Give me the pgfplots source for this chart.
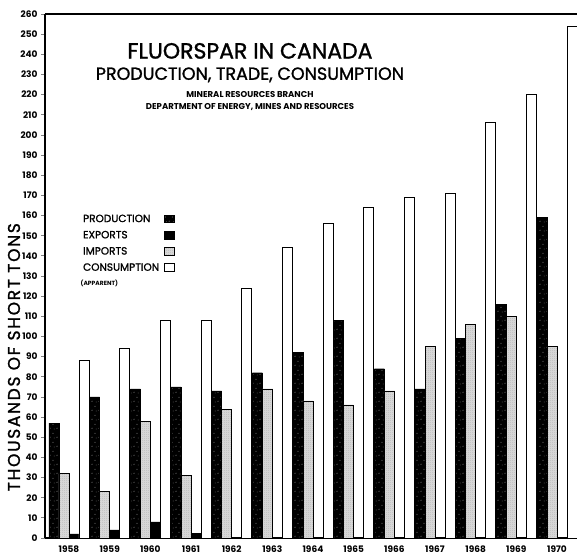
\documentclass[border=0pt]{standalone}
\usepackage{fontspec}
\setmainfont{Poppins}
\newfontfamily\medfont[FakeBold=1.3]{Poppins}
\newfontfamily\ylabfont[FakeBold=1.3,LetterSpace=10]{Poppins}
\usepackage{pgfplots}
\usepackage{pgfplotstable}
\pgfplotsset{compat=1.18}
\usetikzlibrary{patterns}

\pgfdeclarepatternformonly{stipple}{\pgfqpoint{-0.5pt}{-0.5pt}}{\pgfqpoint{1.5pt}{1.5pt}}{\pgfqpoint{2pt}{2pt}}{%
  \pgfpathcircle{\pgfqpoint{0pt}{0pt}}{0.4pt}%
  \pgfpathcircle{\pgfqpoint{1pt}{1pt}}{0.4pt}%
  \pgfusepath{fill}}
\pgfdeclarepatternformonly{speck}{\pgfqpoint{0pt}{0pt}}{\pgfqpoint{7pt}{9pt}}{\pgfqpoint{7pt}{9pt}}{%
  \pgfpathcircle{\pgfqpoint{1.2pt}{2pt}}{0.45pt}%
  \pgfpathcircle{\pgfqpoint{4.6pt}{6.3pt}}{0.4pt}%
  \pgfpathcircle{\pgfqpoint{5.8pt}{1.1pt}}{0.35pt}%
  \pgfusepath{fill}}

\pgfplotstableread{
year prod imp cons
1958 57 32 88
1959 70 23 94
1960 74 58 108
1961 75 31 108
1962 73 64 124
1963 82 74 144
1964 92 68 156
1965 108 66 164
1966 84 73 169
1967 74 95 171
1968 99 106 206
1969 116 110 220
1970 159 95 254
}\fluor

\begin{document}
\begin{tikzpicture}
\useasboundingbox (0,0) rectangle (577pt,555pt);
\clip (0,0) rectangle (577pt,555pt);
\begin{axis}[
  at={(45pt,17pt)}, anchor=south west,
  scale only axis, width=535pt, height=524pt,
  xmin=1957.41, xmax=1970.565, ymin=0, ymax=260,
  ybar, bar width=10pt,
  separate axis lines,
  axis line style={line width=1.8pt},
  xtick={1958,...,1970}, ytick={0,10,...,260},
  xtick style={draw=none},
  ytick pos=left, tick align=outside, major tick length=4pt,
  ytick style={line width=0.8pt},
  /pgf/number format/assume math mode=true,
  /pgf/number format/set thousands separator={},
  ticklabel style={font=\bfseries\fontsize{9}{10}\selectfont},
  ylabel={THOUSANDS OF SHORT TONS},
  ylabel style={font=\ylabfont\fontsize{17}{19}\selectfont, at={(axis description cs:-0.058,0.345)}, anchor=center},
  legend style={at={(axis cs:1958.22,162.5)}, anchor=north west, draw=none, fill=none,
    font=\medfont\fontsize{10.5}{12}\selectfont, row sep=3.3pt, column sep=3pt},
  legend cell align=left, legend plot pos=right,
  legend image code/.code={\draw[#1] (0pt,-3.5pt) rectangle (10pt,4pt);},
]
\addplot[bar shift=-15pt, fill=black, draw=black, postaction={pattern=speck, pattern color=white}] table[x=year,y=prod]{\fluor};
\addlegendentry{PRODUCTION}
\addplot[bar shift=5pt, fill=black, draw=black] coordinates {(1958,2) (1959,4) (1960,8) (1961,2.4)};
\addlegendentry{EXPORTS}
\addplot[bar shift=-5pt, fill=white, draw=black, line width=0.4pt, postaction={pattern=stipple}] table[x=year,y=imp]{\fluor};
\addlegendentry{IMPORTS}
\addplot[bar shift=15pt, fill=white, draw=black, line width=0.8pt] table[x=year,y=cons]{\fluor};
\addlegendentry{CONSUMPTION}

\node[anchor=west, font=\bfseries\fontsize{6}{7}\selectfont] at (axis cs:1958.2,126.5) {(APPARENT)};
\node[font=\medfont\fontsize{22}{24}\selectfont] at (axis cs:1962.45,241.7) {FLUORSPAR IN CANADA};
\node[font=\medfont\fontsize{17.5}{20}\selectfont] at (axis cs:1962.45,229.8) {PRODUCTION, TRADE, CONSUMPTION};
\node[font=\bfseries\fontsize{8.5}{10}\selectfont] at (axis cs:1962.45,219.9) {MINERAL RESOURCES BRANCH};
\node[font=\bfseries\fontsize{8.5}{10}\selectfont] at (axis cs:1962.45,214) {DEPARTMENT OF ENERGY, MINES AND RESOURCES};
\end{axis}
\end{tikzpicture}
\end{document}
